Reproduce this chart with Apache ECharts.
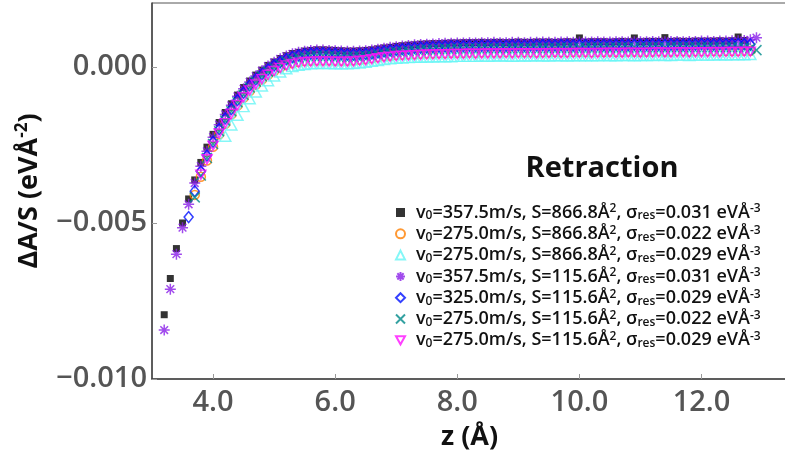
<!DOCTYPE html>
<html><head><meta charset="utf-8">
<script src="https://cdn.jsdelivr.net/npm/echarts@6/dist/echarts.min.js"></script>
<style>html,body{margin:0;padding:0;background:#fff}#c{width:785px;height:462px}</style>
</head><body><div id="c"></div>
<script>
// z positions (Å)
const z = [
3.2,3.3,3.4,3.5,3.6,3.7,3.8,3.9,4.0,4.1,
4.2,4.3,4.4,4.5,4.6,4.7,4.8,4.9,5.0,5.1,
5.2,5.3,5.4,5.5,5.6,5.7,5.8,5.9,6.0,6.1,
6.2,6.3,6.4,6.5,6.6,6.7,6.8,6.9,7.0,7.1,
7.2,7.3,7.4,7.5,7.6,7.7,7.8,7.9,8.0,8.1,
8.2,8.3,8.4,8.5,8.6,8.7,8.8,8.9,9.0,9.1,
9.2,9.3,9.4,9.5,9.6,9.7,9.8,9.9,10.0,10.1,
10.2,10.3,10.4,10.5,10.6,10.7,10.8,10.9,11.0,11.1,
11.2,11.3,11.4,11.5,11.6,11.7,11.8,11.9,12.0,12.1,
12.2,12.3,12.4,12.5,12.6,12.7,12.8,12.9];

// v0=357.5, S=866.8
const yBlack = [
-0.00794,-0.00678,-0.00582,-0.00500,-0.00423,-0.00362,-0.00306,-0.00257,-0.00216,-0.00178,
-0.00146,-0.00118,-0.00090,-0.00066,-0.00045,-0.00026,-0.00010,0.00005,0.00016,0.00027,
0.00036,0.00043,0.00047,0.00051,0.00053,0.00055,0.00055,0.00054,0.00053,0.00052,
0.00051,0.00051,0.00052,0.00053,0.00055,0.00058,0.00061,0.00063,0.00066,0.00068,
0.00070,0.00071,0.00073,0.00074,0.00075,0.00075,0.00076,0.00077,0.00077,0.00078,
0.00078,0.00078,0.00079,0.00078,0.00079,0.00079,0.00078,0.00079,0.00080,0.00079,
0.00079,0.00080,0.00080,0.00080,0.00079,0.00080,0.00081,0.00080,0.00093,0.00080,
0.00081,0.00081,0.00081,0.00080,0.00081,0.00082,0.00081,0.00093,0.00081,0.00082,
0.00082,0.00082,0.00094,0.00082,0.00083,0.00082,0.00082,0.00083,0.00083,0.00083,
0.00083,0.00084,0.00083,0.00084,0.00096,0.00085,null,null];

// v0=275.0, S=866.8, 0.022
const yOrange = [
null,null,null,null,null,-0.00410,-0.00352,-0.00300,-0.00256,-0.00216,
-0.00182,-0.00152,-0.00124,-0.00099,-0.00077,-0.00057,-0.00040,-0.00025,-0.00013,-0.00002,
0.00006,0.00012,0.00016,0.00019,0.00020,0.00021,0.00021,0.00021,0.00020,0.00020,
0.00020,0.00021,0.00023,0.00025,0.00028,0.00031,0.00034,0.00036,0.00038,0.00039,
0.00040,0.00041,0.00042,0.00043,0.00043,0.00044,0.00044,0.00045,0.00045,0.00045,
0.00046,0.00045,0.00046,0.00046,0.00046,0.00046,0.00047,0.00046,0.00047,0.00047,
0.00047,0.00046,0.00047,0.00047,0.00048,0.00047,0.00047,0.00048,0.00048,0.00048,
0.00047,0.00048,0.00048,0.00049,0.00048,0.00048,0.00049,0.00049,0.00048,0.00049,
0.00049,0.00050,0.00049,0.00049,0.00050,0.00050,0.00049,0.00050,0.00050,0.00050,
0.00051,0.00050,0.00051,0.00051,0.00051,0.00052,0.00052,null];

// v0=275.0, S=866.8, 0.029
const yCyan = [
null,null,null,null,null,null,null,null,null,null,
-0.00222,-0.00186,-0.00155,-0.00127,-0.00102,-0.00080,-0.00061,-0.00044,-0.00029,-0.00016,
-0.00006,0.00001,0.00005,0.00008,0.00010,0.00011,0.00011,0.00011,0.00010,0.00010,
0.00010,0.00011,0.00013,0.00015,0.00018,0.00021,0.00024,0.00026,0.00028,0.00029,
0.00030,0.00031,0.00031,0.00032,0.00032,0.00033,0.00033,0.00033,0.00034,0.00034,
0.00034,0.00034,0.00035,0.00034,0.00035,0.00035,0.00035,0.00034,0.00035,0.00035,
0.00035,0.00036,0.00035,0.00035,0.00036,0.00036,0.00035,0.00036,0.00036,0.00036,
0.00036,0.00036,0.00037,0.00036,0.00036,0.00037,0.00037,0.00036,0.00037,0.00037,
0.00037,0.00038,0.00037,0.00037,0.00038,0.00038,0.00037,0.00038,0.00038,0.00038,
0.00038,0.00039,0.00038,0.00039,0.00039,0.00039,0.00040,null];

// v0=357.5, S=115.6
const yPurple = [
-0.00843,-0.00712,-0.00600,-0.00515,-0.00440,-0.00372,-0.00318,-0.00270,-0.00225,-0.00185,
-0.00152,-0.00123,-0.00094,-0.00070,-0.00048,-0.00029,-0.00012,0.00003,0.00015,0.00026,
0.00035,0.00042,0.00047,0.00050,0.00053,0.00054,0.00054,0.00053,0.00052,0.00051,
0.00050,0.00050,0.00051,0.00052,0.00054,0.00057,0.00060,0.00063,0.00065,0.00067,
0.00069,0.00071,0.00072,0.00073,0.00074,0.00075,0.00076,0.00076,0.00077,0.00077,
0.00078,0.00077,0.00078,0.00078,0.00079,0.00078,0.00078,0.00079,0.00079,0.00078,
0.00079,0.00079,0.00080,0.00079,0.00079,0.00080,0.00080,0.00079,0.00080,0.00080,
0.00080,0.00081,0.00080,0.00080,0.00081,0.00081,0.00080,0.00081,0.00081,0.00081,
0.00082,0.00081,0.00081,0.00082,0.00082,0.00081,0.00082,0.00082,0.00083,0.00083,
0.00082,0.00083,0.00083,0.00084,0.00084,0.00085,0.00087,0.00094];

// v0=325.0, S=115.6
const yBlue = [
null,null,null,null,-0.00481,-0.00398,-0.00335,-0.00284,-0.00240,-0.00199,
-0.00165,-0.00135,-0.00106,-0.00082,-0.00059,-0.00040,-0.00023,-0.00008,0.00005,0.00016,
0.00025,0.00032,0.00037,0.00041,0.00043,0.00044,0.00044,0.00043,0.00042,0.00041,
0.00040,0.00040,0.00041,0.00042,0.00044,0.00047,0.00050,0.00053,0.00055,0.00057,
0.00059,0.00061,0.00062,0.00063,0.00064,0.00065,0.00066,0.00066,0.00067,0.00067,
0.00068,0.00067,0.00068,0.00068,0.00069,0.00068,0.00068,0.00069,0.00069,0.00068,
0.00069,0.00069,0.00070,0.00069,0.00069,0.00070,0.00070,0.00069,0.00070,0.00070,
0.00070,0.00071,0.00070,0.00070,0.00071,0.00071,0.00070,0.00071,0.00071,0.00071,
0.00072,0.00071,0.00071,0.00072,0.00072,0.00071,0.00072,0.00072,0.00073,0.00073,
0.00072,0.00073,0.00073,0.00074,0.00074,0.00073,0.00072,null];

// v0=275.0, S=115.6, 0.022
const yTeal = [
null,null,null,null,null,-0.00418,-0.00348,-0.00292,-0.00247,-0.00206,
-0.00172,-0.00142,-0.00113,-0.00089,-0.00066,-0.00047,-0.00030,-0.00015,-0.00002,0.00009,
0.00018,0.00025,0.00030,0.00033,0.00035,0.00036,0.00036,0.00035,0.00034,0.00033,
0.00033,0.00033,0.00034,0.00035,0.00037,0.00040,0.00043,0.00046,0.00048,0.00049,
0.00051,0.00053,0.00054,0.00055,0.00056,0.00057,0.00058,0.00058,0.00059,0.00059,
0.00060,0.00059,0.00060,0.00060,0.00061,0.00060,0.00060,0.00061,0.00061,0.00060,
0.00061,0.00061,0.00062,0.00061,0.00061,0.00062,0.00062,0.00061,0.00062,0.00062,
0.00062,0.00063,0.00062,0.00062,0.00063,0.00063,0.00062,0.00063,0.00063,0.00063,
0.00064,0.00063,0.00063,0.00064,0.00064,0.00063,0.00064,0.00064,0.00064,0.00064,
0.00063,0.00064,0.00063,0.00064,0.00063,0.00062,0.00060,0.00054];

// v0=275.0, S=115.6, 0.029
const yMagenta = [
null,null,null,null,null,null,-0.00345,-0.00296,-0.00252,-0.00213,
-0.00180,-0.00150,-0.00122,-0.00097,-0.00075,-0.00056,-0.00039,-0.00025,-0.00013,-0.00003,
0.00005,0.00010,0.00014,0.00016,0.00017,0.00018,0.00018,0.00018,0.00017,0.00017,
0.00017,0.00018,0.00020,0.00022,0.00025,0.00028,0.00031,0.00033,0.00035,0.00036,
0.00037,0.00038,0.00039,0.00040,0.00040,0.00041,0.00041,0.00042,0.00042,0.00042,
0.00043,0.00042,0.00043,0.00043,0.00043,0.00043,0.00044,0.00043,0.00044,0.00044,
0.00044,0.00043,0.00044,0.00044,0.00045,0.00044,0.00044,0.00045,0.00045,0.00045,
0.00044,0.00045,0.00045,0.00046,0.00045,0.00045,0.00046,0.00046,0.00045,0.00046,
0.00046,0.00047,0.00046,0.00046,0.00047,0.00047,0.00046,0.00047,0.00047,0.00047,
0.00048,0.00047,0.00048,0.00048,0.00048,0.00049,0.00049,null];

const legendV = ['357.5','275.0','275.0','357.5','325.0','275.0','275.0'];
const legendS = ['866.8','866.8','866.8','115.6','115.6','115.6','115.6'];
const legendSig = ['0.031','0.022','0.029','0.031','0.029','0.022','0.029'];
const xTickValues = [4, 6, 8, 10, 12];
const yTickValues = [-0.010, -0.005, 0.000];
const titleText = 'Retraction';

const allY = [yBlack, yOrange, yCyan, yPurple, yBlue, yTeal, yMagenta];
const colors = ['#000000', '#ff8000', '#66f5f5', '#8a1ee8', '#0010ff', '#008a8a', '#ff10ff'];
const symbols = [
  'rect', 'circle', 'triangle',
  'path://M5,0L5,10M0,5L10,5M1.5,1.5L8.5,8.5M8.5,1.5L1.5,8.5',
  'diamond',
  'path://M0,0L10,10M10,0L0,10',
  'path://M0,0L10,0L5,9Z'
];
const sizes = [7, 9, [11, 10], 11, [9, 11], 10, [10, 9]];
const filled = [true, false, false, false, false, false, false];

const FF = '"Open Sans", "DejaVu Sans", sans-serif';
const names = legendV.map((v, i) => `v0=${v}m/s, S=${legendS[i]}Å2, σres=${legendSig[i]} eVÅ-3`);

const series = allY.map((ys, i) => ({
  type: 'scatter',
  name: names[i],
  data: z.map((x, j) => ys[j] === null ? null : [x, ys[j]]).filter(d => d),
  symbol: symbols[i],
  symbolSize: sizes[i],
  itemStyle: filled[i]
    ? { color: colors[i] }
    : { color: 'rgba(0,0,0,0)', borderColor: colors[i], borderWidth: 1.5 },
  silent: true
}));

const chart = echarts.init(document.getElementById('c'));
chart.setOption({
  animation: false,
  backgroundColor: '#fff',
  title: {
    text: titleText, left: 597, top: 149, textAlign: 'center',
    textStyle: { fontFamily: FF, fontSize: 29, fontWeight: 'bold', color: '#111' }
  },
  grid: {
    left: 152, top: 3, width: 635, height: 376, show: true,
    borderColor: '#555', borderWidth: 1, outerBoundsMode: 'none', containLabel: false
  },
  legend: {
    orient: 'vertical', left: 390, top: 198,
    itemWidth: 9, itemHeight: 9, itemGap: 2.3,
    data: names.map((n, i) => ({ name: n, icon: symbols[i] })),
    formatter: function (name) {
      const i = names.indexOf(name);
      return `{n|v}{sb|0}{n|=${legendV[i]}m/s, S=${legendS[i]}Å}{sp|2}{n|, σ}{sb|res}{n|=${legendSig[i]} eVÅ}{sp|-3}`;
    },
    textStyle: {
      padding: [0, 0, 0, 6],
      rich: {
        n: { fontFamily: FF, fontSize: 18, fontWeight: 600, color: '#111', lineHeight: 19 },
        sb: { fontFamily: FF, fontSize: 12, fontWeight: 600, color: '#111', lineHeight: 10, verticalAlign: 'bottom' },
        sp: { fontFamily: FF, fontSize: 12, fontWeight: 600, color: '#111', lineHeight: 10, verticalAlign: 'top' }
      }
    }
  },
  xAxis: {
    type: 'value', min: 3.0, max: 13.4,
    name: 'z (Å)', nameLocation: 'middle', nameGap: 45,
    nameTextStyle: { fontFamily: FF, fontSize: 27, fontWeight: 'bold', color: '#111' },
    axisLine: { onZero: false, lineStyle: { color: '#444', width: 1.5 } },
    axisTick: { inside: true, length: 5, customValues: xTickValues, lineStyle: { color: '#999' } },
    axisLabel: {
      customValues: xTickValues, margin: 9,
      fontFamily: FF, fontSize: 29, fontWeight: 600, color: '#555',
      formatter: v => v.toFixed(1)
    },
    splitLine: { show: false }
  },
  yAxis: {
    type: 'value', min: -0.010, max: 0.00205,
    name: '{n|ΔA/S (eVÅ}{sp|-2}{n|)}', nameLocation: 'middle', nameGap: 108, nameRotate: 90,
    nameTextStyle: {
      rich: {
        n: { fontFamily: FF, fontSize: 27, fontWeight: 'bold', color: '#111', lineHeight: 30 },
        sp: { fontFamily: FF, fontSize: 17, fontWeight: 'bold', color: '#111', lineHeight: 14, verticalAlign: 'top' }
      }
    },
    axisLine: { show: true, onZero: false, lineStyle: { color: '#444', width: 1.5 } },
    axisTick: { show: true, inside: true, length: 5, customValues: yTickValues, lineStyle: { color: '#999' } },
    axisLabel: {
      customValues: yTickValues,
      margin: 5, fontFamily: FF, fontSize: 29, fontWeight: 600, color: '#555',
      formatter: v => Math.abs(v) < 1e-9 ? '0.000' : (v < 0 ? '\u2212' + Math.abs(v).toFixed(3) : v.toFixed(3))
    },
    splitLine: { show: false }
  },
  series: series
});
</script>
</body></html>
